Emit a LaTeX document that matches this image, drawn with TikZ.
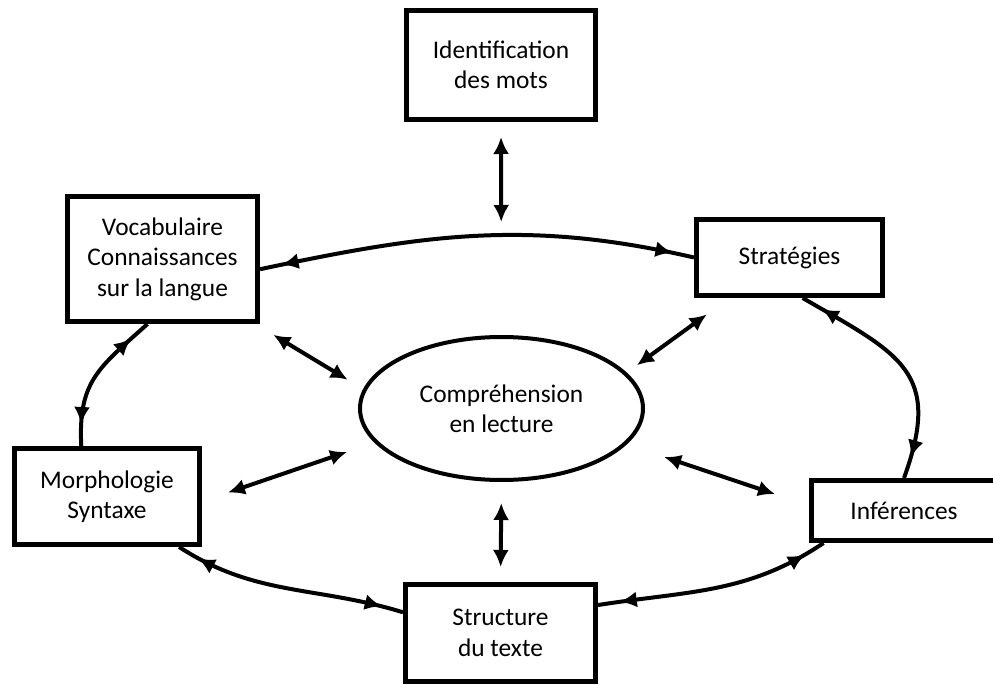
\documentclass[tikz,border=0pt]{standalone}
\usepackage{fontspec}
\setmainfont{Carlito}
\usepackage{tikz}
\usetikzlibrary{arrows.meta, shapes.geometric, decorations.markings}
\tikzstyle{box} = [rectangle, draw=black, line width=2.7pt, align=center, inner sep=0pt]
\tikzstyle{oval} = [ellipse, draw=black, line width=2pt, align=center, inner sep=0pt, minimum width=141.5pt, minimum height=71.5pt]
\tikzstyle{twoway} = [line width=2pt, {Latex[length=8.5pt,width=8pt]}-{Latex[length=8.5pt,width=8pt]}]
\tikzstyle{ring} = [line width=2pt, postaction={decorate}, decoration={markings, mark=at position 11pt with {\arrowreversed{Latex[length=8.5pt,width=8pt]}}, mark=at position -11pt with {\arrow{Latex[length=8.5pt,width=8pt]}}}]

\begin{document}
\begin{tikzpicture}[x=0.5pt, y=0.5pt, font=\fontsize{12.7}{15.2}\selectfont]
            \useasboundingbox (0,0) rectangle (993,-685);

            \node[box, minimum width=94.3pt, minimum height=54.3pt] (ident) at (501,-65) {Identification\\des mots};
            \node[box, minimum width=94.8pt, minimum height=62.3pt] (voc) at (162.5,-259) {Vocabulaire\\Connaissances\\sur la langue};
            \node[box, minimum width=92.8pt, minimum height=37.8pt] (strat) at (789.5,-257.5) {Stratégies};
            \node[oval] (comp) at (501.5,-408.5) {Compréhension\\en lecture};
            \node[box, minimum width=92.3pt, minimum height=47.8pt] (morph) at (107,-496.5) {Morphologie\\Syntaxe};
            \node[box, minimum width=92.3pt, minimum height=29.8pt] (inf) at (904,-510.5) {Inférences};
            \node[box, minimum width=94.8pt, minimum height=48.3pt] (struct) at (500.5,-633) {Structure\\du texte};

            \draw[ring] (voc.-6) to[out=12, in=167] (strat.west);
            \draw[ring] (strat.-72) to[out=-30, in=70, looseness=1.4] (inf.north);
            \draw[ring] (struct.16) to[out=9, in=214] (inf.202);
            \draw[ring] (morph.-35.5) to[out=-33, in=163] (struct.168);
            \draw[ring] (morph.117) to[out=93, in=222, looseness=1.2] (voc.257);

            \draw[twoway, shorten <=7.5pt, shorten >=56.5pt] (ident.south) -- (comp.north);
            \draw[twoway, shorten <=10.5pt, shorten >=7.5pt] (comp.south) -- (struct.north);
            \draw[twoway, shorten <=10.5pt, shorten >=9pt] (voc.-35) -- (comp.172);
            \draw[twoway, shorten <=14pt, shorten >=6.3pt] (strat.214) -- (comp.16);
            \draw[twoway, shorten <=13.7pt, shorten >=14.4pt] (morph.-3) -- (comp.195.5);
            \draw[twoway, shorten <=17.9pt, shorten >=19.7pt] (inf.177) -- (comp.-16.6);

        \end{tikzpicture}
\end{document}
